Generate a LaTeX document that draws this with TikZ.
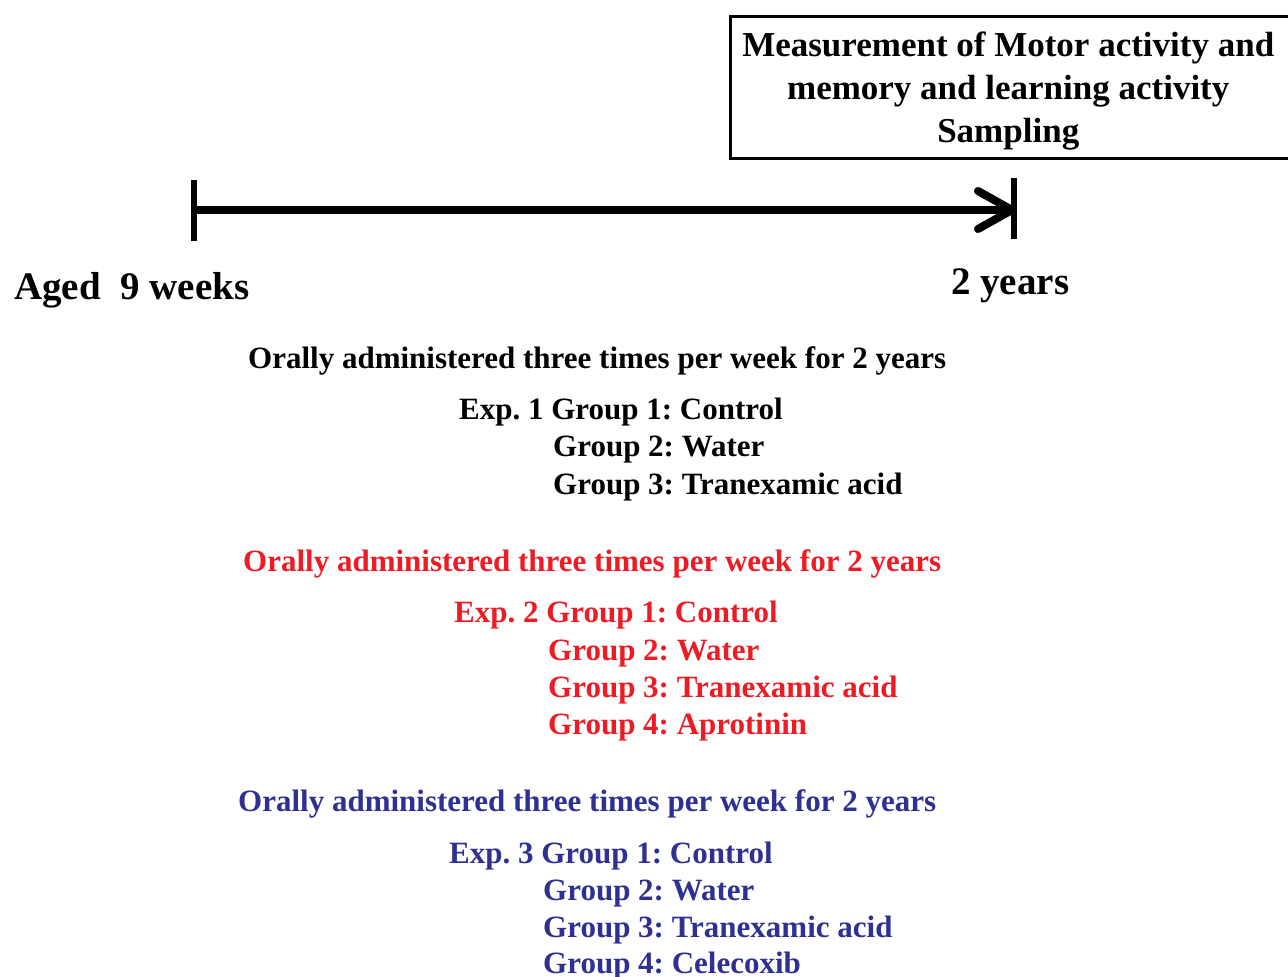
\documentclass[tikz,border=0pt]{standalone}
\usepackage{fontspec}
\setmainfont{Liberation Serif}
\usetikzlibrary{calc}
\definecolor{expred}{RGB}{237,28,36}
\definecolor{expblue}{RGB}{46,49,146}
\tikzset{
  txt/.style={anchor=base west, inner sep=0pt, font=\bfseries\fontsize{31}{37}\selectfont},
  big/.style={anchor=base west, inner sep=0pt, font=\bfseries\fontsize{39}{45}\selectfont},
  boxframe/.style={draw, line width=2.5pt, minimum width=562pt, minimum height=142pt, anchor=north west, inner sep=0pt},
  boxtext/.style={inner sep=0pt, align=center, font=\bfseries\fontsize{35}{43}\selectfont},
  tick/.style={line width=6pt},
  axis/.style={line width=8pt},
  chev/.style={line width=8pt, line cap=round, line join=round}
}
\begin{document}
\frenchspacing
\begin{tikzpicture}[x=1pt,y=-1pt]
\useasboundingbox (0,0) rectangle (1288,977);
% box
\node[boxframe] (box) at (729,15) {};
\node[boxtext] (boxtxt) at ($(box.center)+(-3,4)$) {Measurement of Motor activity and\\memory and learning activity\\Sampling};
% timeline
\coordinate (t0) at (194,210);
\coordinate (t1) at (1012,210);
\coordinate (t0a) at (194,180);
\coordinate (t0b) at (194,241);
\coordinate (t1a) at (1014,178);
\coordinate (t1b) at (1014,239);
\draw[axis] (t0) -- (t1);
\draw[tick] (t0a) -- (t0b);
\draw[tick] (t1a) -- (t1b);
\draw[chev] ($(t1)+(-34,-19)$) -- (t1) -- ($(t1)+(-34,19)$);
\node[big] (aged) at (14,299) {Aged\hspace{0.25em} 9 weeks};
\node[big] (years) at (951,294) {2 years};
% Exp 1
\node[txt] (o1) at (248,368) {Orally administered three times per week for 2 years};
\node[txt] (e1a) at (459,419) {Exp. 1 Group 1: Control};
\node[txt] (e1b) at (553,456) {Group 2: Water};
\node[txt] (e1c) at (553,494) {Group 3: Tranexamic acid};
% Exp 2
\node[txt, text=expred] (o2) at (243,571) {Orally administered three times per week for 2 years};
\node[txt, text=expred] (e2a) at (454,622) {Exp. 2 Group 1: Control};
\node[txt, text=expred] (e2b) at (548,660) {Group 2: Water};
\node[txt, text=expred] (e2c) at (548,697) {Group 3: Tranexamic acid};
\node[txt, text=expred] (e2d) at (548,734) {Group 4: Aprotinin};
% Exp 3
\node[txt, text=expblue] (o3) at (238,811) {Orally administered three times per week for 2 years};
\node[txt, text=expblue] (e3a) at (449,863) {Exp. 3 Group 1: Control};
\node[txt, text=expblue] (e3b) at (543,900) {Group 2: Water};
\node[txt, text=expblue] (e3c) at (543,937) {Group 3: Tranexamic acid};
\node[txt, text=expblue] (e3d) at (543,973) {Group 4: Celecoxib};
\end{tikzpicture}
\end{document}
